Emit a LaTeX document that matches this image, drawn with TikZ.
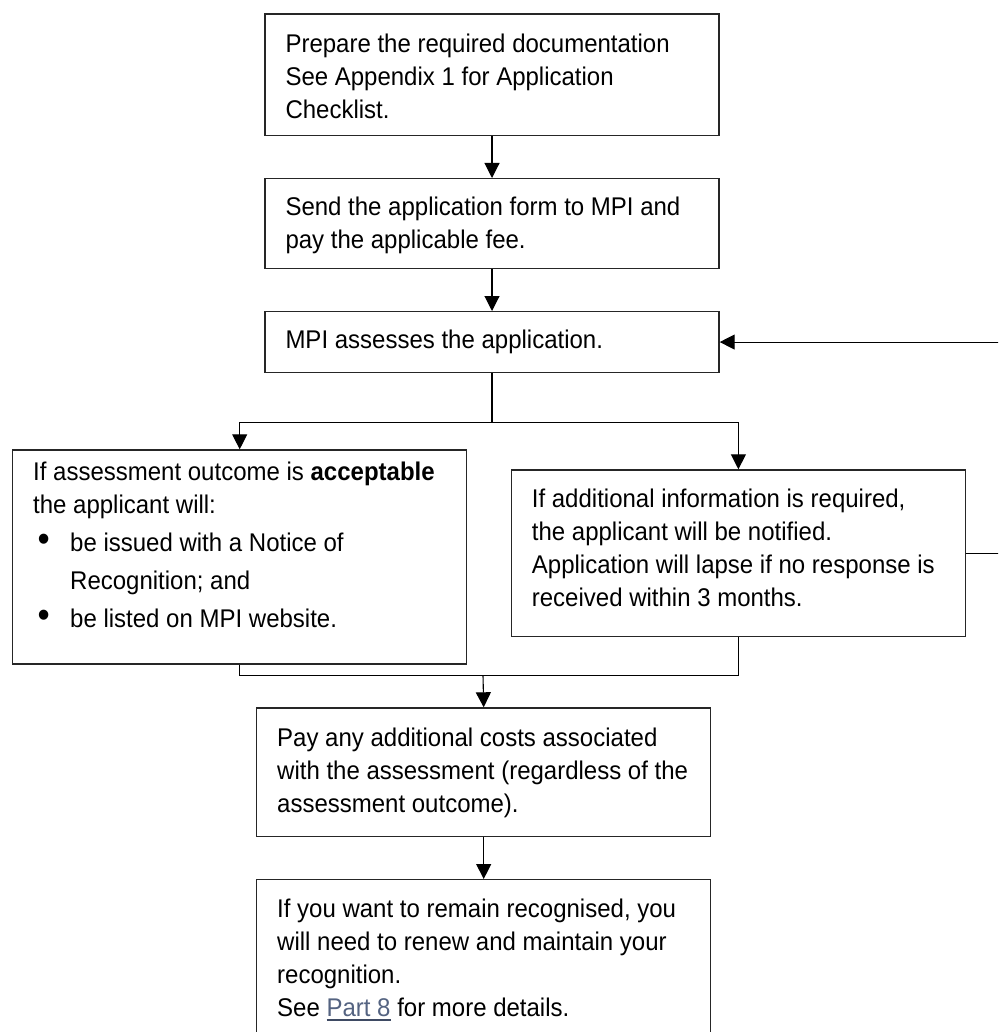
\documentclass[tikz,border=0pt]{standalone}
\usepackage{fontspec}
\setmainfont{Liberation Sans}[FakeStretch=0.9375]
\usetikzlibrary{arrows.meta}
\definecolor{linkblue}{RGB}{84,99,129}
\definecolor{linkline}{RGB}{62,74,99}
\newcommand{\steptext}[3]{\parbox[t][#2][t]{206.5pt}{\raggedright\fontsize{12.8}{16.5}\selectfont\vspace*{#1}\strut #3}}
\newcommand{\pointitem}[1]{\par\baselineskip=19pt\hangindent=18.5pt\hangafter=1\noindent\makebox[18.5pt][l]{\hspace{2.2pt}\scalebox{1.45}{\textbullet}}#1}
\newcommand{\linkref}[1]{\setbox0\hbox{\textcolor{linkblue}{#1}}\rlap{\textcolor{linkline}{\rule[-2.4pt]{\wd0}{1pt}}}\box0\relax}

\begin{document}
\begin{tikzpicture}[x=0.5pt,y=-0.5pt,
  stepbox/.style={draw=black!85, line width=0.7pt, anchor=north west, inner xsep=10.25pt, inner ysep=0pt},
  flow/.style={line width=0.55pt, -{Triangle[length=7.5pt,width=7.5pt]}}]
\useasboundingbox (0,0) rectangle (998,1032);
\clip (0,0) rectangle (998,1032);
% the steps
\node[stepbox] (prep) at (264.3,13.3) {\steptext{7.6pt}{60.85pt}{Prepare the required documentation\\See Appendix 1 for Application\\Checklist.}};
\node[stepbox] (send) at (264.3,178) {\steptext{7pt}{45pt}{Send the application form to MPI and\\pay the applicable fee.}};
\node[stepbox] (assess) at (264.3,311) {\steptext{6.8pt}{30.35pt}{MPI assesses the application.}};
\node[stepbox] (accept) at (12,449.3) {\steptext{3.9pt}{107pt}{If assessment outcome is \textbf{acceptable}\\the applicant will:\pointitem{be issued with a Notice of\newline Recognition; and}\pointitem{be listed on MPI website.}}};
\node[stepbox] (info) at (510.7,469.3) {\steptext{7.1pt}{83.2pt}{If additional information is required,\\the applicant will be notified.\\Application will lapse if no response is\\received within 3 months.}};
\node[stepbox] (costs) at (256,707.3) {\steptext{7.6pt}{64.2pt}{Pay any additional costs associated\\with the assessment (regardless of the\\assessment outcome).}};
\node[stepbox] (renew) at (256,879) {\steptext{7.3pt}{85pt}{If you want to remain recognised, you\\will need to renew and maintain your\\recognition.\\See \linkref{Part 8} for more details.}};
% connectors
\draw[flow] (prep) -- (send);
\draw[flow] (send) -- (assess);
\draw[line width=0.55pt] (assess.south) -- ++(0,49) coordinate (split);
\draw[flow] (split) -| (accept.north);
\draw[flow] (split) -| (info.north);
\coordinate (merge) at (483,675.5);
\draw[line width=0.55pt] (accept.south) |- (merge);
\draw[line width=0.55pt] (info.south) |- (merge);
\draw[flow] (merge) -- (costs.north);
\draw[flow] (costs) -- (renew);
\draw[flow] (info.east) -- ++(37,0) |- (assess.east);
\end{tikzpicture}
\end{document}
